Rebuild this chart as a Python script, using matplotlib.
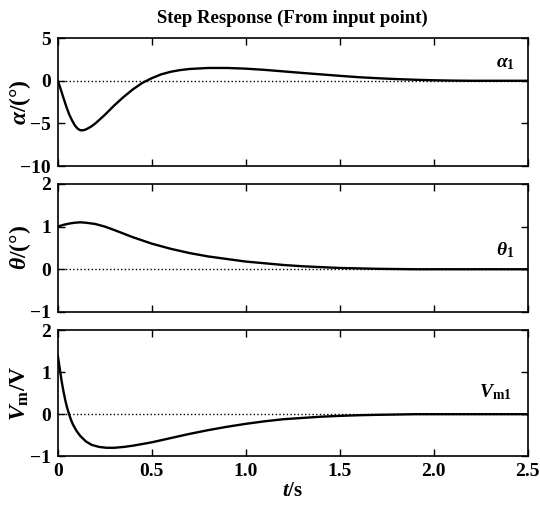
import matplotlib
matplotlib.use('Agg')
import matplotlib.pyplot as plt

plt.rcParams['font.family'] = ['Liberation Serif', 'DejaVu Serif']
plt.rcParams['font.weight'] = 'bold'
plt.rcParams['mathtext.fontset'] = 'custom'
plt.rcParams['mathtext.rm'] = 'Liberation Serif:bold'
plt.rcParams['mathtext.it'] = 'Liberation Serif:italic:bold'
plt.rcParams['mathtext.bf'] = 'Liberation Serif:bold'

# values
t_alpha = [0, 0.01, 0.02, 0.03, 0.045, 0.06, 0.075, 0.09, 0.105, 0.12, 0.135, 0.15,
           0.175, 0.2, 0.25, 0.3, 0.35, 0.4, 0.45, 0.5, 0.55, 0.6, 0.65, 0.7, 0.8,
           0.9, 1.0, 1.1, 1.2, 1.3, 1.4, 1.5, 1.6, 1.7, 1.8, 1.9, 2.0, 2.1, 2.2, 2.5]
alpha = [0, -0.6, -1.3, -2.0, -3.0, -3.9, -4.6, -5.2, -5.6, -5.8, -5.8, -5.7,
         -5.4, -5.0, -4.0, -2.9, -1.9, -1.0, -0.25, 0.3, 0.75, 1.05, 1.25, 1.38, 1.5,
         1.5, 1.42, 1.28, 1.1, 0.92, 0.75, 0.58, 0.42, 0.3, 0.2, 0.12, 0.06, 0.02, 0, 0]

t_theta = [0, 0.03, 0.06, 0.09, 0.12, 0.15, 0.2, 0.25, 0.3, 0.4, 0.5, 0.6, 0.7,
           0.8, 0.9, 1.0, 1.1, 1.2, 1.3, 1.4, 1.5, 1.6, 1.7, 1.8, 1.9, 2.5]
theta = [1.0, 1.04, 1.07, 1.09, 1.1, 1.09, 1.06, 1.0, 0.92, 0.75, 0.6, 0.48, 0.38,
         0.3, 0.24, 0.18, 0.14, 0.1, 0.07, 0.05, 0.03, 0.02, 0.01, 0.005, 0, 0]

t_vm = [0, 0.005, 0.01, 0.02, 0.03, 0.04, 0.05, 0.06, 0.07, 0.08, 0.1, 0.12, 0.15,
        0.18, 0.22, 0.26, 0.3, 0.35, 0.4, 0.5, 0.6, 0.7, 0.8, 0.9, 1.0, 1.1, 1.2,
        1.3, 1.4, 1.5, 1.6, 1.7, 1.8, 1.9, 2.5]
vm = [1.4, 1.25, 1.1, 0.8, 0.55, 0.33, 0.15, 0.0, -0.13, -0.24, -0.4, -0.52, -0.65,
      -0.73, -0.78, -0.8, -0.8, -0.78, -0.75, -0.67, -0.57, -0.47, -0.38, -0.3, -0.23,
      -0.17, -0.12, -0.09, -0.06, -0.04, -0.025, -0.015, -0.008, 0, 0]

x_ticks = [0, 0.5, 1.0, 1.5, 2.0, 2.5]
x_ticklabels = ['0', '0.5', '1.0', '1.5', '2.0', '2.5']

panels = [
    (t_alpha, alpha, (-10, 5), [-10, -5, 0, 5], r'$\alpha/(\degree)$', r'$\alpha_\mathrm{1}$', 0.952, 0.80),
    (t_theta, theta, (-1, 2), [-1, 0, 1, 2], r'$\theta/(\degree)$', r'$\theta_\mathrm{1}$', 0.952, 0.48),
    (t_vm, vm, (-1, 2), [-1, 0, 1, 2], r'$V_\mathrm{m}/\mathrm{V}$', r'$V_\mathrm{m1}$', 0.932, 0.51),
]

fig = plt.figure(figsize=(5.4, 5.08), dpi=100)
rects = [(0.107, 0.673, 0.870, 0.252),
         (0.107, 0.386, 0.870, 0.252),
         (0.107, 0.102, 0.870, 0.248)]

for i, (tt, yy, ylim, yticks, ylab, tag, tx, ty) in enumerate(panels):
    ax = fig.add_axes(rects[i])
    ax.plot(tt, yy, color='black', lw=1.7)
    ax.axhline(0, color='black', lw=1.0, ls=':')
    ax.set_xlim(0, 2.5)
    ax.set_ylim(*ylim)
    ax.set_yticks(yticks)
    ax.set_xticks(x_ticks)
    ax.tick_params(direction='in', top=True, right=True, length=5, width=1,
                   labelsize=14, pad=5)
    for s in ax.spines.values():
        s.set_linewidth(1.2)
    ax.set_ylabel(ylab, fontsize=17, va='center')
    ax.yaxis.set_label_coords(-0.081, 0.5)
    ax.text(tx, ty, tag, transform=ax.transAxes, fontsize=14,
            ha='center', va='center')
    if i < 2:
        ax.tick_params(labelbottom=False)
    else:
        ax.set_xticklabels(x_ticklabels)
        ax.set_xlabel(r'$t\mathrm{/s}$', fontsize=15, labelpad=1)
    if i == 0:
        ax.set_title('Step Response (From input point)', fontsize=13.5,
                     fontweight='bold', pad=11)

fig.savefig('out.png', dpi=100)
